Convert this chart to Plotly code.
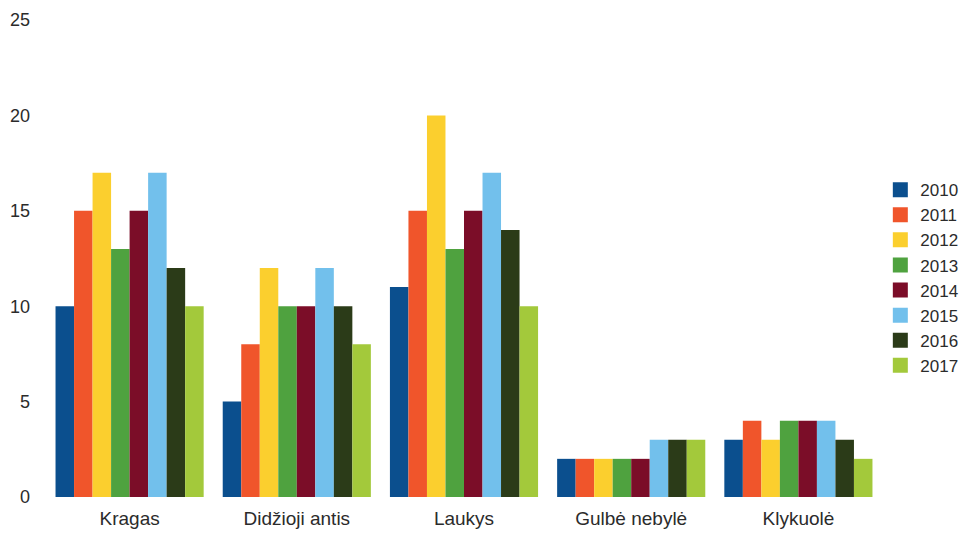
import plotly.graph_objects as go

categories = ["Kragas", "Didžioji antis", "Laukys", "Gulbė nebylė", "Klykuolė"]
years = ["2010", "2011", "2012", "2013", "2014", "2015", "2016", "2017"]
v2010 = [10, 5, 11, 2, 3]
v2011 = [15, 8, 15, 2, 4]
v2012 = [17, 12, 20, 2, 3]
v2013 = [13, 10, 13, 2, 4]
v2014 = [15, 10, 15, 2, 4]
v2015 = [17, 12, 17, 3, 4]
v2016 = [12, 10, 14, 3, 3]
v2017 = [10, 8, 10, 3, 2]
series = [v2010, v2011, v2012, v2013, v2014, v2015, v2016, v2017]
colors = ["#0b4f8e", "#f0552b", "#fbcf2e", "#4fa23f", "#7b0d28", "#72c0ec", "#2b3b18", "#a3c93b"]
y_ticks = [0, 5, 10, 15, 20, 25]

fig = go.Figure()
for name, vals, col in zip(years, series, colors):
    fig.add_trace(go.Bar(name=name, x=categories, y=vals, showlegend=False,
                         legendgroup=name, marker=dict(color=col, line=dict(width=0))))
# legend entries with larger square swatches
for name, col in zip(years, colors):
    fig.add_trace(go.Scatter(name=name, x=[None], y=[None], mode="markers", legendgroup=name,
                             marker=dict(symbol="square", size=15, color=col), showlegend=True))

fig.update_layout(
    width=969, height=537,
    margin=dict(l=46, r=87, t=20, b=40, autoexpand=False),
    paper_bgcolor="white", plot_bgcolor="white",
    barmode="group", bargap=0.114, bargroupgap=0,
    font=dict(family="Liberation Sans, Arial, sans-serif", size=18, color="#2b2b2b"),
    legend=dict(x=0.998, xanchor="left", y=0.46, yanchor="middle",
                font=dict(size=17), tracegroupgap=0, itemwidth=30, itemsizing="trace"),
    showlegend=True,
)
fig.update_xaxes(showline=False, showgrid=False, ticks="", tickfont=dict(size=19),
                 ticklabelstandoff=8)
fig.update_yaxes(range=[0, 25], tickvals=y_ticks, showgrid=False, zeroline=False, showline=False,
                 ticks="", ticklabelstandoff=15, tickfont=dict(size=18))

fig.write_html("out.html")
